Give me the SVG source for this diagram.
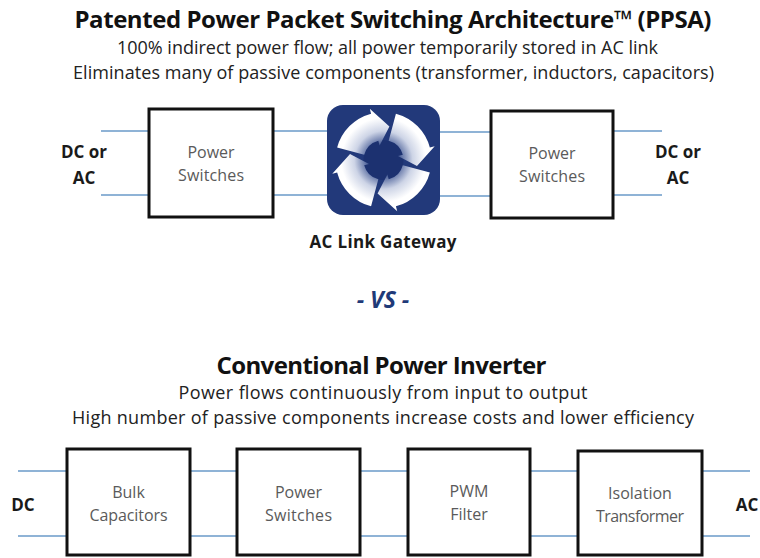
<svg xmlns="http://www.w3.org/2000/svg" xmlns:xlink="http://www.w3.org/1999/xlink" width="760" height="558" viewBox="0 0 760 558">
<style>
.t{font-family:"Open Sans","Noto Sans","Liberation Sans",sans-serif;text-anchor:middle}
.h{font-weight:bold;fill:#111;font-size:24px}
.s{fill:#222;font-size:18px}
.lbl{font-weight:bold;fill:#1a1a1a;font-size:17px}
.bx{fill:#fff;stroke:#111;stroke-width:3}
.bt{fill:#5a5a5a;font-size:16px}
.ln{stroke:#8fb3d6;stroke-width:2;fill:none}
</style>
<defs>
<radialGradient id="ag" gradientUnits="userSpaceOnUse" cx="0" cy="0" r="53">
<stop offset="0.3" stop-color="#4a5f98"/>
<stop offset="0.55" stop-color="#cdd4e6"/>
<stop offset="0.8" stop-color="#ffffff"/>
</radialGradient>
<path id="arw" d="M48,0 A48,48 0 0 1 24,41.57 L26.5,45.9 L2.96,33.87 L7.5,12.99 L10,17.32 A20,20 0 0 0 20,0 Z" fill="url(#ag)"/>
</defs>
<rect width="760" height="558" fill="#fff"/>
<g id="titles">
<text class="t h" x="393" y="28" textLength="637">Patented Power Packet Switching Architecture™ (PPSA)</text>
<text class="t s" x="387.5" y="54" textLength="541">100% indirect power flow; all power temporarily stored in AC link</text>
<text class="t s" x="393.5" y="79" textLength="641">Eliminates many of passive components (transformer, inductors, capacitors)</text>
<text class="t" x="383" y="308" font-size="23" font-style="italic" font-weight="bold" fill="#1f3a78">- VS -</text>
<text class="t h" x="381.5" y="374" textLength="330">Conventional Power Inverter</text>
<text class="t s" x="383" y="399" textLength="409">Power flows continuously from input to output</text>
<text class="t s" x="383" y="424" textLength="622">High number of passive components increase costs and lower efficiency</text>
</g>
<g id="connectors">
<line class="ln" x1="101" y1="131" x2="149" y2="131"/>
<line class="ln" x1="101" y1="195" x2="149" y2="195"/>
<line class="ln" x1="273" y1="131" x2="327" y2="131"/>
<line class="ln" x1="273" y1="195" x2="327" y2="195"/>
<line class="ln" x1="440" y1="132" x2="491" y2="132"/>
<line class="ln" x1="440" y1="196" x2="491" y2="196"/>
<line class="ln" x1="613" y1="131" x2="662" y2="131"/>
<line class="ln" x1="613" y1="195" x2="662" y2="195"/>
<line class="ln" x1="18" y1="471" x2="67" y2="471"/>
<line class="ln" x1="18" y1="536" x2="67" y2="536"/>
<line class="ln" x1="190" y1="471" x2="237" y2="471"/>
<line class="ln" x1="190" y1="536" x2="237" y2="536"/>
<line class="ln" x1="360" y1="471" x2="408" y2="471"/>
<line class="ln" x1="360" y1="536" x2="408" y2="536"/>
<line class="ln" x1="530" y1="471" x2="578" y2="471"/>
<line class="ln" x1="530" y1="536" x2="578" y2="536"/>
<line class="ln" x1="702" y1="471" x2="750" y2="471"/>
<line class="ln" x1="702" y1="536" x2="750" y2="536"/>
</g>
<g id="io-top-left"><text class="t lbl" x="84" y="158">DC or</text><text class="t lbl" x="84" y="184">AC</text></g>
<g id="io-top-right"><text class="t lbl" x="678" y="158">DC or</text><text class="t lbl" x="678" y="184">AC</text></g>
<g id="switches-left">
<rect class="bx" x="149" y="109" width="124" height="108"/>
<text class="t bt" x="211" y="158">Power</text>
<text class="t bt" x="211" y="181" textLength="66">Switches</text>
</g>
<g id="ac-link-gateway">
<rect x="327" y="105" width="113" height="110" rx="16" fill="#22397a"/>
<circle cx="383.5" cy="160" r="20" fill="#1c3170"/>
<use xlink:href="#arw" href="#arw" transform="translate(383.5,160) rotate(-165)"/>
<use xlink:href="#arw" href="#arw" transform="translate(383.5,160) rotate(-75)"/>
<use xlink:href="#arw" href="#arw" transform="translate(383.5,160) rotate(15)"/>
<use xlink:href="#arw" href="#arw" transform="translate(383.5,160) rotate(105)"/>
<text class="t" x="383" y="248" font-size="17" font-weight="bold" fill="#1a1a1a" textLength="147">AC Link Gateway</text>
</g>
<g id="switches-right">
<rect class="bx" x="491" y="111" width="122" height="107"/>
<text class="t bt" x="552" y="159">Power</text>
<text class="t bt" x="552" y="182" textLength="66">Switches</text>
</g>
<g id="io-dc"><text class="t lbl" x="23" y="511">DC</text></g>
<g id="bulk-capacitors">
<rect class="bx" x="67" y="449" width="123" height="106"/>
<text class="t bt" x="128.5" y="498">Bulk</text>
<text class="t bt" x="128.5" y="521" textLength="78">Capacitors</text>
</g>
<g id="power-switches">
<rect class="bx" x="237" y="449" width="123" height="106"/>
<text class="t bt" x="298.5" y="498">Power</text>
<text class="t bt" x="298.5" y="521" textLength="67">Switches</text>
</g>
<g id="pwm-filter">
<rect class="bx" x="408" y="449" width="122" height="106"/>
<text class="t bt" x="469" y="497">PWM</text>
<text class="t bt" x="469" y="520">Filter</text>
</g>
<g id="isolation-transformer">
<rect class="bx" x="578" y="451" width="124" height="104"/>
<text class="t bt" x="640" y="499">Isolation</text>
<text class="t bt" x="640" y="522" textLength="88">Transformer</text>
</g>
<g id="io-ac"><text class="t lbl" x="747" y="511">AC</text></g>
</svg>
